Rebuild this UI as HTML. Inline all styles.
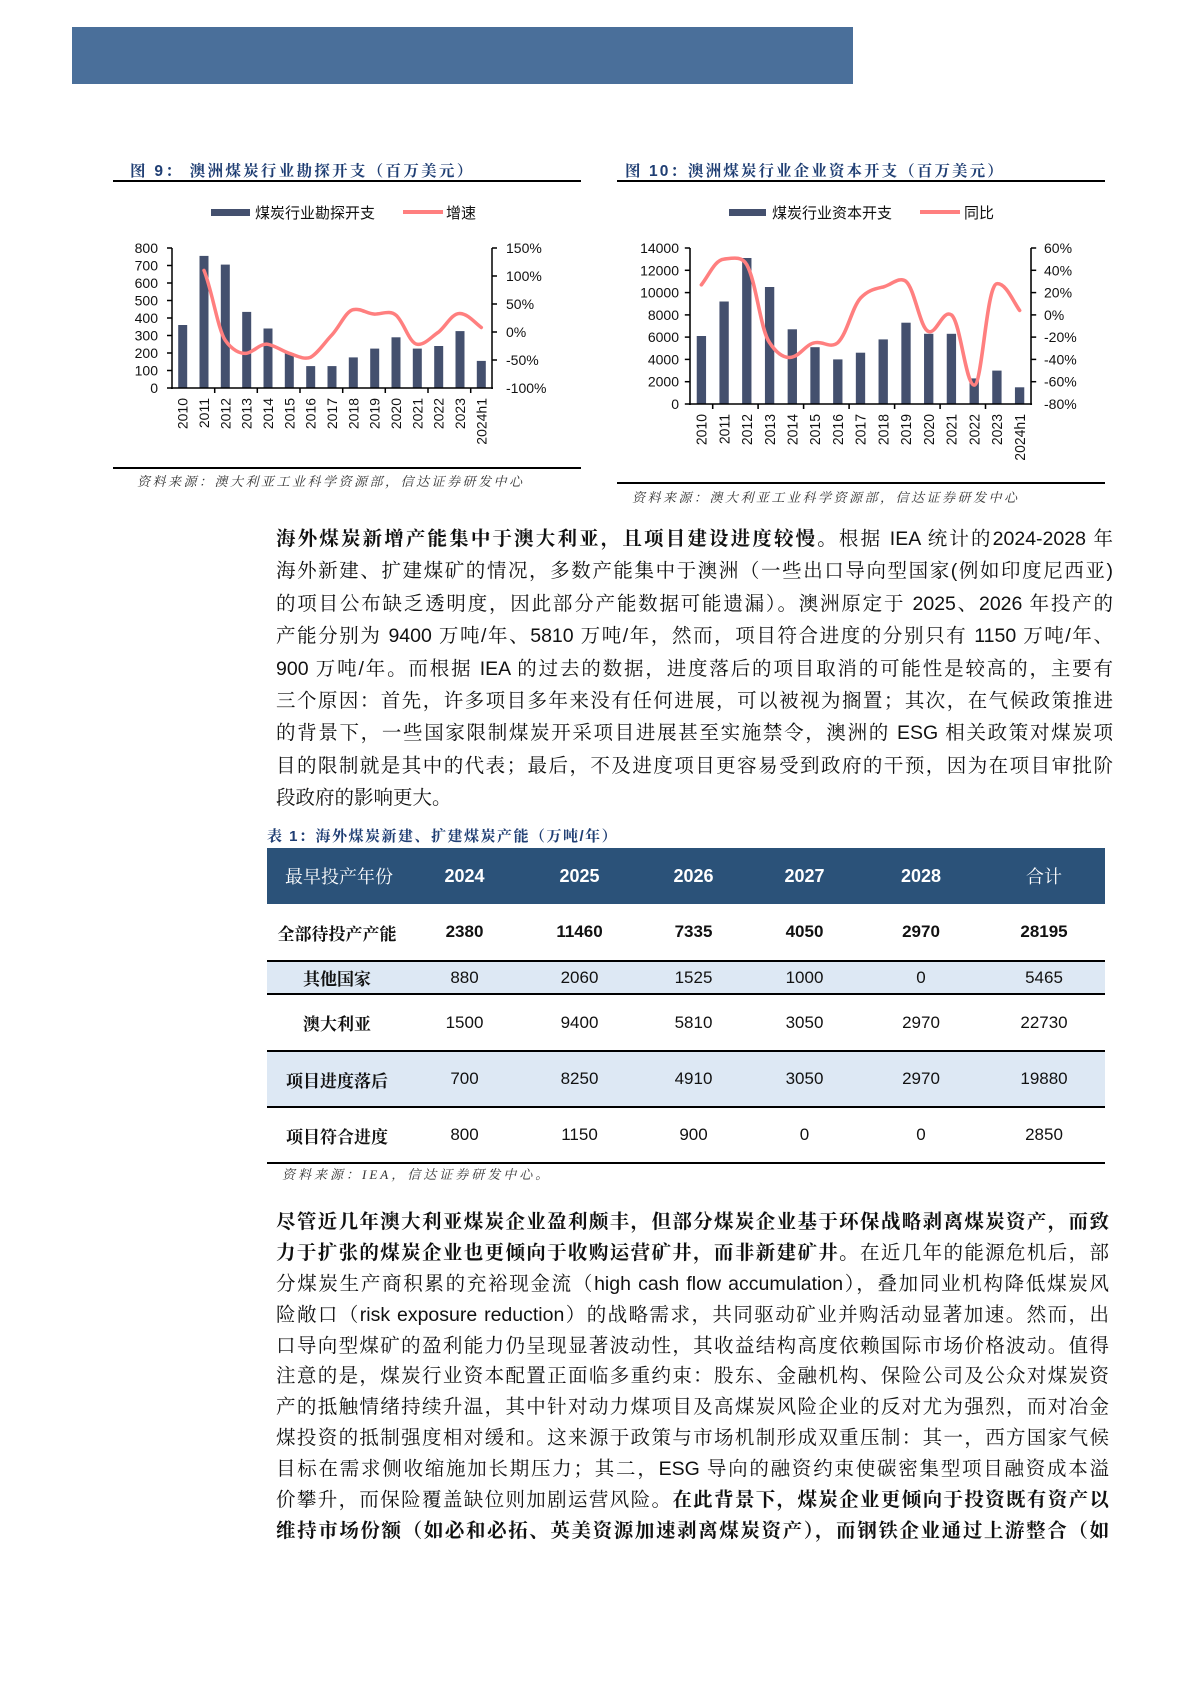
<!DOCTYPE html>
<html><head><meta charset="utf-8">
<style>
body{margin:0;background:#fff;}
#pg{position:relative;width:1190px;height:1683px;overflow:hidden;font-family:"Liberation Sans","Noto Sans CJK SC",sans-serif;}
.a{position:absolute;}
.p{position:absolute;left:276px;width:837px;font-family:"Liberation Sans","Noto Serif CJK SC",serif;font-size:19.5px;color:#111;}
.p div{height:32.4px;line-height:32.4px;text-align:justify;text-align-last:justify;white-space:nowrap;}
.p div.l{text-align-last:left;}
.q{width:833px;}
.q div{height:30.9px;line-height:30.9px;}
b{font-weight:bold;}
table{border-collapse:collapse;}
</style></head><body><div id="pg">
<div class="a" style="left:72px;top:27px;width:781px;height:57px;background:#4a6f9a;"></div>

<svg class="a" style="left:0;top:0" width="1190" height="520" font-family="Liberation Sans, Noto Sans CJK SC, sans-serif">
<!-- chart 1 -->
<text x="130" y="176" font-size="15.5" font-weight="bold" fill="#1f3e73" letter-spacing="2.3" font-family="Liberation Sans, Noto Serif CJK SC, serif">图 9：  澳洲煤炭行业勘探开支（百万美元）</text>
<line x1="113" y1="181" x2="581" y2="181" stroke="#000" stroke-width="2"/>
<rect x="211" y="209" width="39" height="7" fill="#44506e"/>
<text x="255" y="218" font-size="15" fill="#111">煤炭行业勘探开支</text>
<line x1="403" y1="212" x2="443" y2="212" stroke="#ff7f7f" stroke-width="4"/>
<text x="446" y="218" font-size="15" fill="#111">增速</text>
<g fill="#44506e">
<rect x="178.2" y="325" width="9" height="63"/><rect x="199.5" y="255.9" width="9" height="132.1"/><rect x="220.8" y="264.6" width="9" height="123.4"/><rect x="242.2" y="311.9" width="9" height="76.1"/><rect x="263.5" y="328.5" width="9" height="59.5"/><rect x="284.8" y="353" width="9" height="35"/><rect x="306.2" y="366.1" width="9" height="21.9"/><rect x="327.5" y="366.1" width="9" height="21.9"/><rect x="348.8" y="357.4" width="9" height="30.6"/><rect x="370.2" y="348.6" width="9" height="39.4"/><rect x="391.5" y="337.3" width="9" height="50.7"/><rect x="412.8" y="348.6" width="9" height="39.4"/><rect x="434.2" y="346" width="9" height="42"/><rect x="455.5" y="331.1" width="9" height="56.9"/><rect x="476.8" y="360.9" width="9" height="27.1"/>
</g>
<path d="M204,270.4 C212,290 218,330 225.3,340.4 C232,350 240,354 246.7,353.3 C254,352 260,343 268,344.3 C276,346 282,351 289.3,353.3 C297,356 304,360 310.7,357.2 C318,353 325,342 332,334.8 C340,326 346,311 353.3,309.6 C361,308 367,314 374.7,314.1 C382,314 390,310 396,315.2 C404,322 409,343 417.3,344.3 C425,345 431,337 438.7,332 C446,326 452,313 460,313.5 C468,314 474,322 481.3,327.5" fill="none" stroke="#ff7f7f" stroke-width="3.5" stroke-linecap="round"/>
<g stroke="#000" stroke-width="1.5">
<line x1="172" y1="248" x2="172" y2="389"/><line x1="171" y1="388" x2="493" y2="388"/><line x1="492" y1="248" x2="492" y2="389"/>
<line x1="167" y1="248" x2="172" y2="248"/><line x1="167" y1="265.5" x2="172" y2="265.5"/><line x1="167" y1="283" x2="172" y2="283"/><line x1="167" y1="300.5" x2="172" y2="300.5"/><line x1="167" y1="318" x2="172" y2="318"/><line x1="167" y1="335.5" x2="172" y2="335.5"/><line x1="167" y1="353" x2="172" y2="353"/><line x1="167" y1="370.5" x2="172" y2="370.5"/><line x1="167" y1="388" x2="172" y2="388"/>
<line x1="492" y1="248" x2="497" y2="248"/><line x1="492" y1="276" x2="497" y2="276"/><line x1="492" y1="304" x2="497" y2="304"/><line x1="492" y1="332" x2="497" y2="332"/><line x1="492" y1="360" x2="497" y2="360"/>
<line x1="214.7" y1="388" x2="214.7" y2="393"/><line x1="257.3" y1="388" x2="257.3" y2="393"/><line x1="300" y1="388" x2="300" y2="393"/><line x1="342.7" y1="388" x2="342.7" y2="393"/><line x1="385.3" y1="388" x2="385.3" y2="393"/><line x1="428" y1="388" x2="428" y2="393"/><line x1="470.7" y1="388" x2="470.7" y2="393"/>
</g>
<g font-size="14" fill="#111" text-anchor="end">
<text x="158" y="253">800</text><text x="158" y="270.5">700</text><text x="158" y="288">600</text><text x="158" y="305.5">500</text><text x="158" y="323">400</text><text x="158" y="340.5">300</text><text x="158" y="358">200</text><text x="158" y="375.5">100</text><text x="158" y="393">0</text>
</g>
<g font-size="14" fill="#111">
<text x="506" y="253">150%</text><text x="506" y="281">100%</text><text x="506" y="309">50%</text><text x="506" y="337">0%</text><text x="506" y="365">-50%</text><text x="506" y="393">-100%</text>
</g>
<g font-size="14" fill="#111" text-anchor="end">
<text transform="translate(187.7,398) rotate(-90)">2010</text><text transform="translate(209,398) rotate(-90)">2011</text><text transform="translate(230.3,398) rotate(-90)">2012</text><text transform="translate(251.7,398) rotate(-90)">2013</text><text transform="translate(273,398) rotate(-90)">2014</text><text transform="translate(294.3,398) rotate(-90)">2015</text><text transform="translate(315.7,398) rotate(-90)">2016</text><text transform="translate(337,398) rotate(-90)">2017</text><text transform="translate(358.3,398) rotate(-90)">2018</text><text transform="translate(379.7,398) rotate(-90)">2019</text><text transform="translate(401,398) rotate(-90)">2020</text><text transform="translate(422.3,398) rotate(-90)">2021</text><text transform="translate(443.7,398) rotate(-90)">2022</text><text transform="translate(465,398) rotate(-90)">2023</text><text transform="translate(486.3,398) rotate(-90)">2024h1</text>
</g>
<line x1="113" y1="468" x2="581" y2="468" stroke="#000" stroke-width="2"/>
<text x="137" y="486" font-size="13" font-style="italic" fill="#333" letter-spacing="2.5" font-family="Liberation Serif, Noto Serif CJK SC, serif">资料来源：澳大利亚工业科学资源部，信达证券研发中心</text>

<!-- chart 2 -->
<text x="625" y="176" font-size="15.5" font-weight="bold" fill="#1f3e73" letter-spacing="2.1" font-family="Liberation Sans, Noto Serif CJK SC, serif">图 10：澳洲煤炭行业企业资本开支（百万美元）</text>
<line x1="617" y1="181" x2="1105" y2="181" stroke="#000" stroke-width="2"/>
<rect x="729" y="209" width="37" height="7" fill="#44506e"/>
<text x="772" y="218" font-size="15" fill="#111">煤炭行业资本开支</text>
<line x1="920" y1="212" x2="960" y2="212" stroke="#ff7f7f" stroke-width="4"/>
<text x="964" y="218" font-size="15" fill="#111">同比</text>
<g transform="translate(690,0) scale(1.0365,1) translate(-688,0)">
<g fill="#44506e">
<rect x="694.5" y="336" width="9" height="68"/><rect x="716.4" y="301.5" width="9" height="102.5"/><rect x="738.3" y="258" width="9" height="146"/><rect x="760.3" y="287" width="9" height="117"/><rect x="782.2" y="329.3" width="9" height="74.7"/><rect x="804.1" y="347.2" width="9" height="56.8"/><rect x="826.1" y="359.4" width="9" height="44.6"/><rect x="848" y="352.7" width="9" height="51.3"/><rect x="869.9" y="339.4" width="9" height="64.6"/><rect x="891.9" y="322.7" width="9" height="81.3"/><rect x="913.8" y="333.8" width="9" height="70.2"/><rect x="935.7" y="333.8" width="9" height="70.2"/><rect x="957.7" y="378.4" width="9" height="25.6"/><rect x="979.6" y="370.6" width="9" height="33.4"/><rect x="1001.5" y="387.3" width="9" height="16.7"/>
</g>
<path d="M699,284.8 C707,274 712,260 720.9,259.1 C730,258 738,256 742.8,264.7 C752,282 756,330 764.8,342.7 C772,354 779,359 786.7,357.1 C795,355 800,344 808.6,342.7 C817,341 823,349 830.6,342.7 C840,333 844,308 852.5,298.1 C860,290 866,289 874.4,287 C882,285 890,276 896.4,281.4 C905,289 910,329 918.3,331.6 C926,334 932,309 940.2,314.9 C949,322 954,385 962.2,385.1 C970,385 974,285 984.1,283.7 C993,283 1000,302 1006,310.4" fill="none" stroke="#ff7f7f" stroke-width="3.5" stroke-linecap="round"/>
<g stroke="#000" stroke-width="1.5">
<line x1="688" y1="248" x2="688" y2="405"/><line x1="687" y1="404" x2="1018" y2="404"/><line x1="1017" y1="248" x2="1017" y2="405"/>
<line x1="683" y1="248" x2="688" y2="248"/><line x1="683" y1="270.3" x2="688" y2="270.3"/><line x1="683" y1="292.6" x2="688" y2="292.6"/><line x1="683" y1="314.9" x2="688" y2="314.9"/><line x1="683" y1="337.1" x2="688" y2="337.1"/><line x1="683" y1="359.4" x2="688" y2="359.4"/><line x1="683" y1="381.7" x2="688" y2="381.7"/><line x1="683" y1="404" x2="688" y2="404"/>
<line x1="1017" y1="248" x2="1022" y2="248"/><line x1="1017" y1="270.3" x2="1022" y2="270.3"/><line x1="1017" y1="292.6" x2="1022" y2="292.6"/><line x1="1017" y1="314.9" x2="1022" y2="314.9"/><line x1="1017" y1="337.1" x2="1022" y2="337.1"/><line x1="1017" y1="359.4" x2="1022" y2="359.4"/><line x1="1017" y1="381.7" x2="1022" y2="381.7"/>
<line x1="709.9" y1="404" x2="709.9" y2="409"/><line x1="753.7" y1="404" x2="753.7" y2="409"/><line x1="797.6" y1="404" x2="797.6" y2="409"/><line x1="841.5" y1="404" x2="841.5" y2="409"/><line x1="885.4" y1="404" x2="885.4" y2="409"/><line x1="929.3" y1="404" x2="929.3" y2="409"/><line x1="973.1" y1="404" x2="973.1" y2="409"/>
</g>
<g font-size="14" fill="#111" text-anchor="end">
<text transform="translate(704,414) rotate(-90)">2010</text><text transform="translate(725.9,414) rotate(-90)">2011</text><text transform="translate(747.8,414) rotate(-90)">2012</text><text transform="translate(769.8,414) rotate(-90)">2013</text><text transform="translate(791.7,414) rotate(-90)">2014</text><text transform="translate(813.6,414) rotate(-90)">2015</text><text transform="translate(835.6,414) rotate(-90)">2016</text><text transform="translate(857.5,414) rotate(-90)">2017</text><text transform="translate(879.4,414) rotate(-90)">2018</text><text transform="translate(901.4,414) rotate(-90)">2019</text><text transform="translate(923.3,414) rotate(-90)">2020</text><text transform="translate(945.2,414) rotate(-90)">2021</text><text transform="translate(967.2,414) rotate(-90)">2022</text><text transform="translate(989.1,414) rotate(-90)">2023</text><text transform="translate(1011,414) rotate(-90)">2024h1</text>
</g>
</g>
<g font-size="14" fill="#111" text-anchor="end">
<text x="679" y="253">14000</text><text x="679" y="275.3">12000</text><text x="679" y="297.6">10000</text><text x="679" y="319.9">8000</text><text x="679" y="342.1">6000</text><text x="679" y="364.4">4000</text><text x="679" y="386.7">2000</text><text x="679" y="409">0</text>
</g>
<g font-size="14" fill="#111">
<text x="1044" y="253">60%</text><text x="1044" y="275.3">40%</text><text x="1044" y="297.6">20%</text><text x="1044" y="319.9">0%</text><text x="1044" y="342.1">-20%</text><text x="1044" y="364.4">-40%</text><text x="1044" y="386.7">-60%</text><text x="1044" y="409">-80%</text>
</g>
<line x1="617" y1="483" x2="1105" y2="483" stroke="#000" stroke-width="2"/>
<text x="632" y="502" font-size="13" font-style="italic" fill="#333" letter-spacing="2.5" font-family="Liberation Serif, Noto Serif CJK SC, serif">资料来源：澳大利亚工业科学资源部，信达证券研发中心</text>
</svg>

<div class="p" style="top:523px;">
<div><b>海外煤炭新增产能集中于澳大利亚，且项目建设进度较慢。</b>根据 IEA 统计的2024-2028 年</div>
<div>海外新建、扩建煤矿的情况，多数产能集中于澳洲（一些出口导向型国家(例如印度尼西亚)</div>
<div>的项目公布缺乏透明度，因此部分产能数据可能遗漏）。澳洲原定于 2025、2026 年投产的</div>
<div>产能分别为 9400 万吨/年、5810 万吨/年，然而，项目符合进度的分别只有 1150 万吨/年、</div>
<div>900 万吨/年。而根据 IEA 的过去的数据，进度落后的项目取消的可能性是较高的，主要有</div>
<div>三个原因：首先，许多项目多年来没有任何进展，可以被视为搁置；其次，在气候政策推进</div>
<div>的背景下，一些国家限制煤炭开采项目进展甚至实施禁令，澳洲的 ESG 相关政策对煤炭项</div>
<div>目的限制就是其中的代表；最后，不及进度项目更容易受到政府的干预，因为在项目审批阶</div>
<div class="l">段政府的影响更大。</div>
</div>

<div class="a" style="left:267px;top:825px;font-size:15px;font-weight:bold;color:#1f3e73;letter-spacing:1.5px;font-family:'Liberation Sans','Noto Serif CJK SC',serif;">表 1：海外煤炭新建、扩建煤炭产能（万吨/年）</div>
<table class="a" style="left:267px;top:848px;width:838px;font-size:17px;color:#111;text-align:center;font-family:'Liberation Sans','Noto Serif CJK SC',serif;">
<colgroup><col style="width:140px"><col style="width:115px"><col style="width:115px"><col style="width:113px"><col style="width:109px"><col style="width:124px"><col style="width:122px"></colgroup>
<tr style="height:56px;background:#2b5279;color:#fff;font-weight:bold;font-size:18px;"><td style="text-align:left;padding-left:18px;font-weight:normal;">最早投产年份</td><td>2024</td><td>2025</td><td>2026</td><td>2027</td><td>2028</td><td style="font-weight:normal">合计</td></tr>
<tr style="height:57px;font-weight:bold;border-bottom:2px solid #000;"><td>全部待投产产能</td><td>2380</td><td>11460</td><td>7335</td><td>4050</td><td>2970</td><td>28195</td></tr>
<tr style="height:33px;background:#dde8f4;border-bottom:2px solid #000;"><td style="font-weight:bold">其他国家</td><td>880</td><td>2060</td><td>1525</td><td>1000</td><td>0</td><td>5465</td></tr>
<tr style="height:57px;border-bottom:2px solid #000;"><td style="font-weight:bold">澳大利亚</td><td>1500</td><td>9400</td><td>5810</td><td>3050</td><td>2970</td><td>22730</td></tr>
<tr style="height:56px;background:#dde8f4;border-bottom:2px solid #000;"><td style="font-weight:bold">项目进度落后</td><td>700</td><td>8250</td><td>4910</td><td>3050</td><td>2970</td><td>19880</td></tr>
<tr style="height:56px;border-bottom:2px solid #000;"><td style="font-weight:bold">项目符合进度</td><td>800</td><td>1150</td><td>900</td><td>0</td><td>0</td><td>2850</td></tr>
</table>
<div class="a" style="left:282px;top:1164px;font-size:13px;font-style:italic;color:#333;letter-spacing:3px;font-family:'Liberation Serif','Noto Serif CJK SC',serif;">资料来源：IEA，信达证券研发中心。</div>

<div class="p q" style="top:1207px;">
<div><b>尽管近几年澳大利亚煤炭企业盈利颇丰，但部分煤炭企业基于环保战略剥离煤炭资产，而致</b></div>
<div><b>力于扩张的煤炭企业也更倾向于收购运营矿井，而非新建矿井。</b>在近几年的能源危机后，部</div>
<div>分煤炭生产商积累的充裕现金流（high cash flow accumulation），叠加同业机构降低煤炭风</div>
<div>险敞口（risk exposure reduction）的战略需求，共同驱动矿业并购活动显著加速。然而，出</div>
<div>口导向型煤矿的盈利能力仍呈现显著波动性，其收益结构高度依赖国际市场价格波动。值得</div>
<div>注意的是，煤炭行业资本配置正面临多重约束：股东、金融机构、保险公司及公众对煤炭资</div>
<div>产的抵触情绪持续升温，其中针对动力煤项目及高煤炭风险企业的反对尤为强烈，而对冶金</div>
<div>煤投资的抵制强度相对缓和。这来源于政策与市场机制形成双重压制：其一，西方国家气候</div>
<div>目标在需求侧收缩施加长期压力；其二，ESG 导向的融资约束使碳密集型项目融资成本溢</div>
<div>价攀升，而保险覆盖缺位则加剧运营风险。<b>在此背景下，煤炭企业更倾向于投资既有资产以</b></div>
<div><b>维持市场份额（如必和必拓、英美资源加速剥离煤炭资产），而钢铁企业通过上游整合（如</b></div>
</div>
</div></body></html>
